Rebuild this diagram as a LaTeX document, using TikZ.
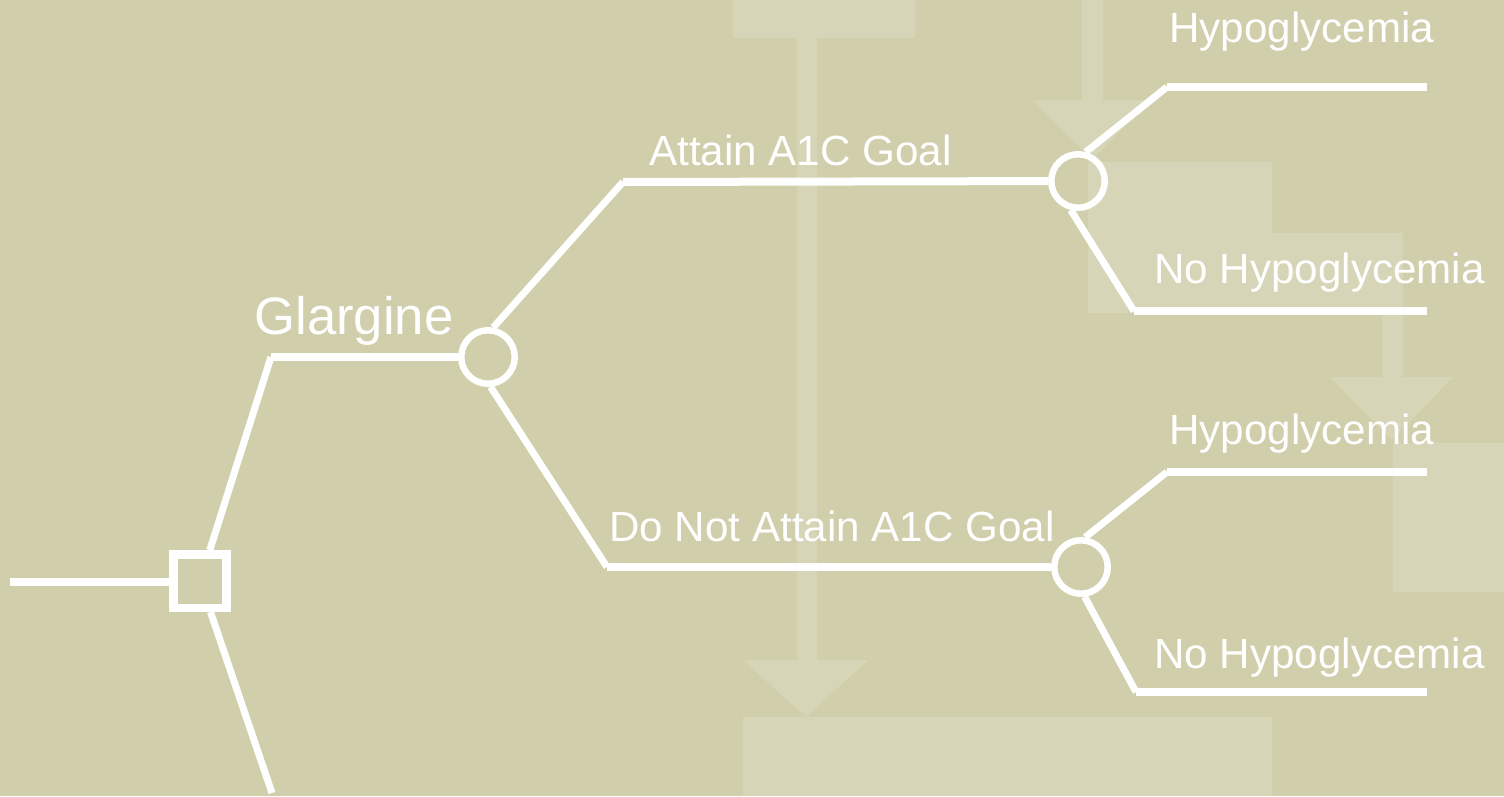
\documentclass[tikz,border=0pt]{standalone}
\usepackage{fontspec}
\setmainfont{Liberation Sans}
\usepackage{xcolor}
\usepackage{tikz}
\usetikzlibrary{positioning}

\definecolor{treebg}{RGB}{208,206,171}
\definecolor{treeshade}{RGB}{214,213,183}

\begin{document}
\begin{tikzpicture}[x=0.02cm, y=-0.02cm,
  branch/.style={draw=white, line width=0.16cm},
  stem/.style={draw=white, line width=0.14cm},
  chance/.style={circle, draw=white, line width=0.13cm,
    minimum size=1.07cm, inner sep=0pt},
  decision/.style={rectangle, draw=white, line width=0.17cm,
    minimum size=1.07cm, inner sep=0pt},
  lbl/.style={text=white, inner sep=0pt, anchor=base west,
    font=\fontsize{24}{28}\selectfont}]
  % Background and the faint flow chart behind the tree
  \fill[treebg] (0,0) rectangle (1504,796);
  \fill[treeshade] (733,0) rectangle (915,38);
  \fill[treeshade] (797,38) rectangle (817,662);
  \fill[treeshade] (743,660) -- (868,660) -- (806,717) -- cycle;
  \fill[treeshade] (743,717) rectangle (1272,796);
  \fill[treeshade] (1082,0) rectangle (1103,102);
  \fill[treeshade] (1033,100) -- (1150,100) -- (1092,160) -- cycle;
  \fill[treeshade] (1088,162) rectangle (1272,313);
  \fill[treeshade] (1272,233) rectangle (1382,313);
  \fill[treeshade] (1382,233) rectangle (1403,379);
  \fill[treeshade] (1330,377) -- (1453,377) -- (1392,440) -- cycle;
  \fill[treeshade] (1393,443) rectangle (1504,592);

  % Decision and chance nodes
  \node[decision] (dec) at (200,581) {};
  \node[chance] (glar) at (488,357) {};
  \node[chance] (goal) at (1078,181) {};
  \node[chance] (nogoal) at (1081,567) {};

  % Corners of the branches
  \coordinate (start) at (10,582);
  \coordinate (other) at (272,793);
  \coordinate (glarL) at (271,357);
  \coordinate (goalL) at (623,182);
  \coordinate (nogoalL) at (607,567);
  \coordinate (hypoA) at (1167,87);
  \coordinate (hypoAe) at (1427,87);
  \coordinate (nohypoA) at (1134,311);
  \coordinate (nohypoAe) at (1427,311);
  \coordinate (hypoB) at (1167,472);
  \coordinate (hypoBe) at (1427,472);
  \coordinate (nohypoB) at (1136,692);
  \coordinate (nohypoBe) at (1427,692);

  % Branches
  \draw[branch] (start) -- (start -| dec.west);
  \draw[stem] (dec) -- (glarL);
  \draw[stem] (dec) -- (other);
  \draw[branch] (glarL) -- (glar);
  \draw[stem] (glar.80) -- (goalL);
  \draw[branch] (goalL) -- (goal);
  \draw[stem] (glar.-85) -- (nogoalL);
  \draw[branch] (nogoalL) -- (nogoal);
  \draw[stem] (goal.75) -- (hypoA);
  \draw[branch] (hypoA) -- (hypoAe);
  \draw[stem] (goal.-104) -- (nohypoA);
  \draw[branch] (nohypoA) -- (nohypoAe);
  \draw[stem] (nogoal.82) -- (hypoB);
  \draw[branch] (hypoB) -- (hypoBe);
  \draw[stem] (nogoal.-83) -- (nohypoB);
  \draw[branch] (nohypoB) -- (nohypoBe);

  % Labels
  \node[lbl, font=\fontsize{30}{35}\selectfont] (glargine) at (254,334) {Glargine};
  \node[lbl] (attain) at (649,165) {Attain A1C Goal};
  \node[lbl] (notattain) at (609,541) {Do Not Attain A1C Goal};
  \node[lbl] (hypoAl) at (1169,42) {Hypoglycemia};
  \node[lbl] (nohypoAl) at (1154,283) {No Hypoglycemia};
  \node[lbl] (hypoBl) at (1169,444) {Hypoglycemia};
  \node[lbl] (nohypoBl) at (1154,668) {No Hypoglycemia};
\end{tikzpicture}
\end{document}
